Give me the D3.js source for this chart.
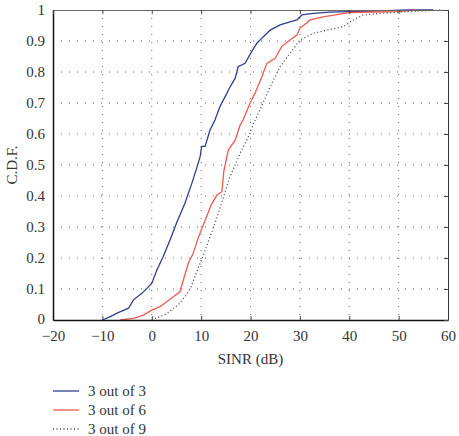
<!DOCTYPE html>
<html>
<head>
<meta charset="utf-8">
<script src="https://cdn.jsdelivr.net/npm/d3@7"></script>
<style>
  body { margin: 0; background: #fff; }
  text { font-family: "Liberation Serif", "DejaVu Serif", serif; fill: #333; }
</style>
</head>
<body>
<div id="chart"></div>
<script>
// data
var xTicks = [-20, -10, 0, 10, 20, 30, 40, 50, 60];
var yTicks = [0, 0.1, 0.2, 0.3, 0.4, 0.5, 0.6, 0.7, 0.8, 0.9, 1];
var seriesNames = ["3 out of 3", "3 out of 6", "3 out of 9"];

var sinr3of3 = [-10, -8.5, -6.8, -4.7, -3.7, -2.0, 0.0, 1.0, 2.3, 3.7, 5.0, 6.7, 8.1, 9.1, 9.8, 10.1, 10.8, 11.8, 12.8, 13.8, 15.2, 15.8, 16.9, 17.5, 18.9, 20.2, 21.3, 22.6, 24.0, 26.0, 28.0, 29.4, 30.4, 32.7, 36.1, 40.2, 46, 52, 57];
var cdf3of3  = [0, 0.01, 0.024, 0.038, 0.065, 0.086, 0.118, 0.16, 0.204, 0.258, 0.312, 0.376, 0.44, 0.49, 0.527, 0.56, 0.56, 0.613, 0.645, 0.688, 0.731, 0.75, 0.78, 0.817, 0.828, 0.865, 0.893, 0.914, 0.935, 0.952, 0.962, 0.968, 0.984, 0.989, 0.993, 0.995, 0.997, 1.0, 1.0];

var sinr3of6 = [-6.4, -3.7, -1.7, 0.0, 1.7, 3.0, 4.4, 5.7, 6.4, 7.4, 8.4, 9.4, 10.4, 11.1, 12.0, 13.2, 14.2, 14.6, 15.5, 16.9, 17.9, 18.5, 19.9, 20.9, 22.3, 23.3, 25.0, 26.3, 28.0, 29.4, 30.0, 32.1, 34.7, 38.1, 40.2, 49.6, 53.6];
var cdf3of6  = [0, 0.005, 0.016, 0.032, 0.043, 0.059, 0.075, 0.091, 0.129, 0.183, 0.215, 0.265, 0.305, 0.333, 0.37, 0.403, 0.414, 0.48, 0.548, 0.58, 0.629, 0.645, 0.699, 0.731, 0.785, 0.828, 0.844, 0.882, 0.903, 0.919, 0.941, 0.968, 0.978, 0.987, 0.992, 0.995, 1.0];

var sinr3of9 = [0, 3.0, 5.7, 7.7, 9.8, 11.1, 13.2, 15.2, 15.8, 17.9, 19.9, 20.6, 21.9, 24.0, 26.0, 28.0, 30.0, 32.7, 35.4, 38.8, 40.2, 42.8, 46.2, 50.3, 55.0, 59.0];
var cdf3of9  = [0, 0.02, 0.054, 0.097, 0.183, 0.237, 0.33, 0.43, 0.46, 0.538, 0.602, 0.634, 0.677, 0.753, 0.817, 0.86, 0.903, 0.925, 0.935, 0.946, 0.962, 0.984, 0.989, 0.993, 0.997, 1.0];

var W = 459, H = 436;
var margin = { top: 10, right: 11, bottom: 116, left: 53 },
    width  = W - margin.left - margin.right,
    height = H - margin.top - margin.bottom;

var svg = d3.select("#chart").append("svg")
            .attr("width", W).attr("height", H);
var g = svg.append("g")
           .attr("transform", `translate(${margin.left},${margin.top})`);

var x = d3.scaleLinear().domain([-20, 60]).range([0, width]);
var y = d3.scaleLinear().domain([0, 1]).range([height, 0]);

// dotted grid
g.selectAll(".vgrid").data(xTicks.slice(1, -1)).enter().append("line")
  .attr("x1", d => x(d)).attr("x2", d => x(d))
  .attr("y1", 0).attr("y2", height)
  .attr("stroke", "#666").attr("stroke-width", 1)
  .attr("stroke-dasharray", "1,7");
g.selectAll(".hgrid").data(yTicks.slice(1, -1)).enter().append("line")
  .attr("x1", 0).attr("x2", width)
  .attr("y1", d => y(d)).attr("y2", d => y(d))
  .attr("stroke", "#666").attr("stroke-width", 1)
  .attr("stroke-dasharray", "1,7");

// curves
var series = [
  { name: seriesNames[0], xs: sinr3of3, ys: cdf3of3, color: "#2e3f8e", dash: null },
  { name: seriesNames[1], xs: sinr3of6, ys: cdf3of6, color: "#ee5a4e", dash: null },
  { name: seriesNames[2], xs: sinr3of9, ys: cdf3of9, color: "#444",    dash: "1,2.5" }
];
var line = d3.line().x(d => x(d[0])).y(d => y(d[1]));

series.forEach(function(s) {
  g.append("path")
   .datum(d3.zip(s.xs, s.ys))
   .attr("fill", "none")
   .attr("stroke", s.color)
   .attr("stroke-width", 1.3)
   .attr("stroke-dasharray", s.dash)
   .attr("d", line);
});

// axes with inward ticks
var fmtX = d => d < 0 ? "\u2212" + Math.abs(d) : String(d);
var axBottom = g.append("g").attr("transform", `translate(0,${height})`)
  .call(d3.axisBottom(x).tickValues(xTicks).tickSizeInner(-4).tickSizeOuter(0).tickPadding(10).tickFormat(fmtX));
var axLeft = g.append("g")
  .call(d3.axisLeft(y).tickValues(yTicks).tickSizeInner(0).tickSizeOuter(0).tickPadding(8).tickFormat(d => d === 0 || d === 1 ? String(d) : d.toFixed(1)));
var axTop = g.append("g")
  .call(d3.axisTop(x).tickValues(xTicks).tickSizeInner(-4).tickSizeOuter(0).tickFormat(""));
var axRight = g.append("g").attr("transform", `translate(${width},0)`)
  .call(d3.axisRight(y).tickValues(yTicks).tickSizeInner(-4).tickSizeOuter(0).tickFormat(""));

[axBottom, axLeft, axTop, axRight].forEach(function(a) {
  a.attr("font-family", null);
  a.selectAll("text").style("font-size", "15px").attr("fill", "#333")
   .style("font-family", '"Liberation Serif", serif');
  a.selectAll(".tick line").attr("stroke", "#444");
});
// nudge the "0" label up a touch so it clears the "−20" under it
axLeft.selectAll(".tick text").filter(d => d === 0).attr("dy", "0.2em");
axBottom.select(".domain").attr("stroke", "#111").attr("stroke-width", 1.5);
axLeft.select(".domain").attr("stroke", "#111").attr("stroke-width", 1.5);
axTop.select(".domain").attr("stroke", "#666");
axRight.select(".domain").attr("stroke", "#333");

// axis titles
svg.append("text")
   .attr("x", margin.left + width / 2).attr("y", 364)
   .attr("text-anchor", "middle").style("font-size", "15px")
   .text("SINR (dB)");
svg.append("text")
   .attr("transform", `translate(17,${margin.top + height / 2}) rotate(-90)`)
   .attr("text-anchor", "middle").style("font-size", "15px")
   .text("C.D.F.");

// legend
var leg = svg.append("g").attr("transform", "translate(53,391)");
series.forEach(function(s, i) {
  var yy = i * 19;
  leg.append("line")
     .attr("x1", 0).attr("x2", 26).attr("y1", yy).attr("y2", yy)
     .attr("stroke", s.color).attr("stroke-width", 1.3)
     .attr("stroke-dasharray", s.dash);
  leg.append("text")
     .attr("x", 35).attr("y", yy + 5)
     .style("font-size", "15px")
     .text(s.name);
});
</script>
</body>
</html>
